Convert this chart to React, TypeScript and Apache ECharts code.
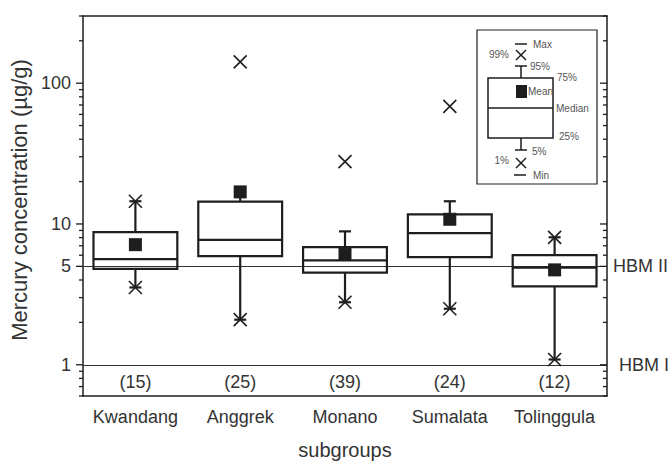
import React, { useEffect, useRef } from 'react';
import * as echarts from 'echarts';

const categories = ['Kwandang', 'Anggrek', 'Monano', 'Sumalata', 'Tolinggula'];
const sampleCounts = [15, 25, 39, 24, 12];
const p1Values = [3.54, 2.09, 2.78, 2.5, 1.09];
const p5Values = [3.54, 2.09, 2.78, 2.5, 1.09];
const q1Values = [4.8, 5.92, 4.52, 5.82, 3.6];
const medianValues = [5.63, 7.7, 5.51, 8.62, 4.9];
const q3Values = [8.76, 14.4, 6.84, 11.7, 6.01];
const p95Values = [14.5, 16.0, 8.86, 14.5, 8.04];
const p99Values = [14.5, 141.8, 27.7, 68.5, 8.04];
const meanValues = [7.13, 16.9, 6.17, 10.8, 4.72];
const majorTickValues = [1, 5, 10, 100];
const minorTickValues = [0.6, 0.7, 0.8, 0.9, 2, 3, 4, 6, 7, 8, 9, 20, 30, 40, 50, 60, 70, 80, 90, 200, 300];
const hbmLevels = [5, 1];
const hbmNames = ['HBM II', 'HBM I'];
const countLabelLevel = 0.75;

const INK = '#1e1e1e';
const TXT = '#333';
const FONT = '"Liberation Sans", Arial, sans-serif';

export default function App() {
  const ref = useRef<HTMLDivElement>(null);
  useEffect(() => {
    if (!ref.current) return;
    const chart = echarts.init(ref.current, null, { renderer: 'svg' });

    const boxData = categories.map((_, i) => [i, p5Values[i], q1Values[i], medianValues[i], q3Values[i], p95Values[i]]);
    const crossData = categories.map((_, i) => [i, p1Values[i], p99Values[i]]);
    const meanData = categories.map((_, i) => [i, meanValues[i]]);
    const countData = categories.map((_, i) => [i, countLabelLevel, sampleCounts[i]]);

    const lineStyle = { stroke: INK, lineWidth: 2.2, fill: 'none' };

    const legendGroup: any[] = [];
    const L = (x1: number, y1: number, x2: number, y2: number, w = 1.5) =>
      legendGroup.push({ type: 'line', shape: { x1, y1, x2, y2 }, style: { stroke: INK, lineWidth: w } });
    const T = (text: string, x: number, y: number, align = 'left') =>
      legendGroup.push({ type: 'text', x, y, style: { text, fill: '#555', font: `10px ${FONT}`, align, verticalAlign: 'middle' } });
    legendGroup.push({ type: 'rect', shape: { x: 477, y: 30, width: 120, height: 154 }, style: { fill: '#fff', stroke: INK, lineWidth: 1.2 } });
    L(515, 44, 527, 44); T('Max', 533, 44);
    L(516, 50, 526, 60); L(516, 60, 526, 50); T('99%', 509, 54, 'right');
    L(515, 66, 527, 66); T('95%', 530, 66);
    L(521, 66, 521, 78);
    legendGroup.push({ type: 'rect', shape: { x: 488, y: 78, width: 65, height: 60 }, style: { fill: 'none', stroke: INK, lineWidth: 1.5 } });
    legendGroup.push({ type: 'rect', shape: { x: 516, y: 85, width: 11, height: 13 }, style: { fill: INK } });
    T('Mean', 528, 91); T('75%', 557, 77);
    L(488, 108, 553, 108); T('Median', 556, 108);
    T('25%', 559, 136);
    L(521, 138, 521, 150); L(515, 150, 527, 150); T('5%', 532, 151);
    L(516, 158, 526, 168); L(516, 168, 526, 158); T('1%', 509, 160, 'right');
    L(514, 175, 526, 175); T('Min', 533, 175);

    const option: any = {
      animation: false,
      grid: { left: 83, right: 65, top: 16, bottom: 66 },
      xAxis: [
        {
          type: 'category',
          data: categories,
          position: 'bottom',
          name: 'subgroups',
          nameLocation: 'middle',
          nameGap: 44,
          nameTextStyle: { fontSize: 20, color: TXT, fontFamily: FONT },
          axisLine: { lineStyle: { color: INK, width: 1.5 } },
          axisTick: { alignWithLabel: true, length: 7, lineStyle: { color: INK, width: 1.5 } },
          axisLabel: { fontSize: 18, color: TXT, fontFamily: FONT, margin: 12, interval: 0 },
          splitLine: { show: false },
        },
        {
          type: 'category',
          data: categories,
          position: 'top',
          axisLine: { lineStyle: { color: INK, width: 1.5 } },
          axisTick: { alignWithLabel: true, inside: true, length: 6, interval: 0, lineStyle: { color: INK, width: 1.5 } },
          axisLabel: { show: false },
        },
      ],
      yAxis: [
        {
          type: 'log',
          logBase: 10,
          min: 0.6,
          max: 300,
          position: 'left',
          name: 'Mercury concentration (µg/g)',
          nameLocation: 'middle',
          nameGap: 50,
          nameTextStyle: { fontSize: 22, color: TXT, fontFamily: FONT, padding: [0, 0, 0, 12] },
          axisLine: { show: true, lineStyle: { color: INK, width: 1.5 } },
          axisTick: { show: false },
          splitLine: { show: false },
          axisLabel: {
            fontSize: 18,
            color: TXT,
            fontFamily: FONT,
            margin: 12,
            formatter: (v: number) => {
              const e = Math.log10(v);
              return Math.abs(e - Math.round(e)) < 1e-6 && majorTickValues.some((m) => Math.abs(m - v) < 1e-6) ? String(Math.round(v)) : '';
            },
          },
        },
        {
          type: 'log',
          logBase: 10,
          min: 0.6,
          max: 300,
          position: 'right',
          axisLine: { show: true, lineStyle: { color: INK, width: 1.5 } },
          axisTick: { show: false },
          axisLabel: { show: false },
          splitLine: { show: false },
        },
      ],
      graphic: [{ type: 'group', children: legendGroup, z: 100 }],
      series: [
        {
          type: 'custom',
          name: 'ticks',
          data: [[0, 1]],
          silent: true,
          z: 5,
          renderItem: (params: any, api: any) => {
            const cs = params.coordSys;
            const left = cs.x;
            const right = cs.x + cs.width;
            const children: any[] = [];
            const tk = { stroke: INK, lineWidth: 1.3 };
            minorTickValues.forEach((v) => {
              const y = api.coord([0, v])[1];
              children.push({ type: 'line', shape: { x1: left - 4, y1: y, x2: left, y2: y }, style: tk });
              children.push({ type: 'line', shape: { x1: right - 4, y1: y, x2: right, y2: y }, style: tk });
            });
            majorTickValues.forEach((v) => {
              const y = api.coord([0, v])[1];
              children.push({ type: 'line', shape: { x1: left - 7, y1: y, x2: left, y2: y }, style: tk });
              children.push({ type: 'line', shape: { x1: right - 7, y1: y, x2: right, y2: y }, style: tk });
            });
            const y5 = api.coord([0, 5])[1];
            children.push({ type: 'text', x: left - 12, y: y5, style: { text: '5', fill: TXT, font: `18px ${FONT}`, align: 'right', verticalAlign: 'middle' } });
            return { type: 'group', children };
          },
        },
        {
          type: 'custom',
          name: 'boxes',
          data: boxData,
          z: 10,
          renderItem: (params: any, api: any) => {
            const i = api.value(0);
            const [x, yP5] = api.coord([i, api.value(1)]);
            const yQ1 = api.coord([i, api.value(2)])[1];
            const yMed = api.coord([i, api.value(3)])[1];
            const yQ3 = api.coord([i, api.value(4)])[1];
            const yP95 = api.coord([i, api.value(5)])[1];
            const half = (params.coordSys.width / categories.length) * 0.4;
            const cap = 6;
            return {
              type: 'group',
              children: [
                { type: 'line', shape: { x1: x, y1: yQ3, x2: x, y2: yP95 }, style: lineStyle },
                { type: 'line', shape: { x1: x, y1: yQ1, x2: x, y2: yP5 }, style: lineStyle },
                { type: 'line', shape: { x1: x - cap, y1: yP95, x2: x + cap, y2: yP95 }, style: lineStyle },
                { type: 'line', shape: { x1: x - cap, y1: yP5, x2: x + cap, y2: yP5 }, style: lineStyle },
                { type: 'rect', shape: { x: x - half, y: yQ3, width: 2 * half, height: yQ1 - yQ3 }, style: { fill: 'none', stroke: INK, lineWidth: 2.2 } },
                { type: 'line', shape: { x1: x - half, y1: yMed, x2: x + half, y2: yMed }, style: lineStyle },
              ],
            };
          },
        },
        {
          type: 'custom',
          name: 'extremes',
          data: crossData,
          z: 12,
          renderItem: (params: any, api: any) => {
            const i = api.value(0);
            const children: any[] = [];
            [api.value(1), api.value(2)].forEach((v: number) => {
              const [x, y] = api.coord([i, v]);
              const s = 6.5;
              const st = { stroke: INK, lineWidth: 1.6 };
              children.push({ type: 'line', shape: { x1: x - s, y1: y - s, x2: x + s, y2: y + s }, style: st });
              children.push({ type: 'line', shape: { x1: x - s, y1: y + s, x2: x + s, y2: y - s }, style: st });
            });
            return { type: 'group', children };
          },
        },
        {
          type: 'scatter',
          name: 'mean',
          data: meanData,
          symbol: 'rect',
          symbolSize: 13,
          itemStyle: { color: INK, opacity: 1 },
          z: 14,
        },
        {
          type: 'custom',
          name: 'counts',
          data: countData,
          z: 15,
          renderItem: (params: any, api: any) => {
            const [x, y] = api.coord([api.value(0), api.value(1)]);
            return { type: 'text', x, y, style: { text: `(${api.value(2)})`, fill: TXT, font: `18px ${FONT}`, align: 'center', verticalAlign: 'middle' } };
          },
        },
        {
          type: 'line',
          name: 'hbm',
          data: [],
          z: 20,
          markLine: {
            silent: true,
            symbol: 'none',
            lineStyle: { color: '#333', width: 1.2, type: 'solid' },
            data: hbmLevels.map((v, k) => ({
              yAxis: v,
              label: { show: true, position: 'end', formatter: hbmNames[k], fontSize: 18, color: TXT, fontFamily: FONT, distance: k === 0 ? 6 : 12 },
            })),
          },
        },
      ],
    };
    chart.setOption(option);
    return () => chart.dispose();
  }, []);
  return <div ref={ref} style={{ position: 'absolute', left: 0, top: 0, width: 672, height: 465 }} />;
}
